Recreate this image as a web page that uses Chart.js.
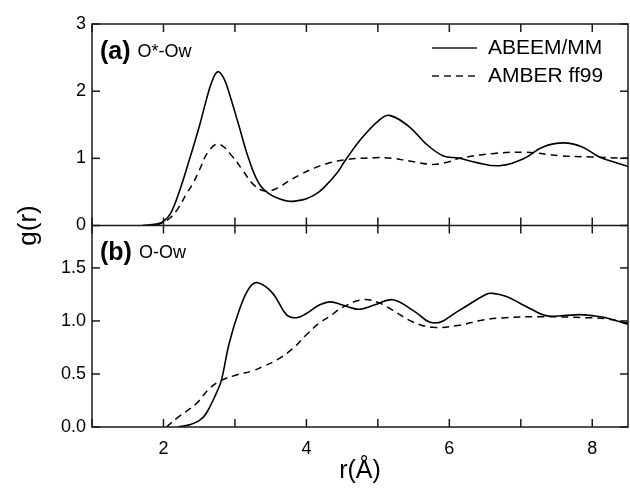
<!DOCTYPE html>
<html>
<head>
<meta charset="utf-8">
<script src="https://cdn.jsdelivr.net/npm/chart.js@4.4.1/dist/chart.umd.min.js"></script>
<style>
    html, body { margin: 0; padding: 0; background: #fff; }
</style>
</head>
<body>
<canvas id="chart-gr" width="630" height="488"></canvas>
<script>
/*
    ========================
      DATOS g(r)
    ========================
*/
// panel (a) O*-Ow
let rAbeemA = [1.70, 1.90, 2.00, 2.10, 2.22, 2.36, 2.50, 2.60, 2.68, 2.76, 2.84, 2.92, 3.06, 3.20, 3.34, 3.48, 3.64, 3.76, 3.88, 4.00, 4.12, 4.23, 4.42, 4.55, 4.79, 5.02, 5.16, 5.44, 5.67, 5.91, 6.14, 6.37, 6.70, 7.03, 7.31, 7.60, 7.86, 8.10, 8.38, 8.50];
let gAbeemA = [0.00, 0.02, 0.06, 0.18, 0.50, 0.97, 1.47, 1.87, 2.15, 2.29, 2.20, 1.97, 1.47, 0.97, 0.62, 0.47, 0.39, 0.36, 0.37, 0.40, 0.46, 0.55, 0.77, 0.98, 1.32, 1.57, 1.64, 1.47, 1.22, 1.04, 1.00, 0.94, 0.89, 0.99, 1.17, 1.23, 1.17, 1.02, 0.92, 0.88];

let rAmberA = [1.90, 2.08, 2.22, 2.32, 2.41, 2.50, 2.64, 2.78, 2.97, 3.11, 3.25, 3.39, 3.50, 3.60, 3.75, 3.90, 4.10, 4.28, 4.55, 4.97, 5.20, 5.44, 5.76, 6.00, 6.14, 6.60, 7.07, 7.54, 8.00, 8.50];
let gAmberA = [0.00, 0.10, 0.28, 0.47, 0.62, 0.82, 1.12, 1.21, 1.02, 0.82, 0.62, 0.52, 0.52, 0.56, 0.66, 0.75, 0.85, 0.92, 0.98, 1.01, 1.00, 0.96, 0.91, 0.95, 1.00, 1.07, 1.09, 1.04, 1.02, 1.00];

// panel (b) O-Ow
let rAbeemB = [2.20, 2.36, 2.50, 2.60, 2.74, 2.81, 2.92, 3.06, 3.20, 3.32, 3.53, 3.72, 3.86, 4.00, 4.18, 4.32, 4.46, 4.60, 4.74, 4.95, 5.21, 5.49, 5.79, 6.14, 6.51, 6.61, 6.80, 6.98, 7.15, 7.35, 7.60, 7.82, 8.00, 8.19, 8.50];
let gAbeemB = [0.00, 0.02, 0.06, 0.13, 0.32, 0.44, 0.79, 1.10, 1.31, 1.36, 1.26, 1.06, 1.03, 1.07, 1.15, 1.18, 1.16, 1.13, 1.11, 1.15, 1.20, 1.10, 0.98, 1.10, 1.25, 1.26, 1.23, 1.17, 1.11, 1.05, 1.05, 1.06, 1.05, 1.03, 0.97];

let rAmberB = [2.04, 2.22, 2.46, 2.64, 2.81, 3.02, 3.25, 3.39, 3.58, 3.81, 4.00, 4.18, 4.32, 4.51, 4.79, 5.02, 5.21, 5.49, 5.77, 6.14, 6.47, 6.79, 7.26, 7.96, 8.20, 8.50];
let gAmberB = [0.00, 0.10, 0.22, 0.36, 0.44, 0.49, 0.53, 0.57, 0.63, 0.74, 0.87, 0.98, 1.04, 1.13, 1.20, 1.17, 1.10, 0.99, 0.94, 0.96, 1.01, 1.03, 1.04, 1.03, 1.02, 0.98];

let etiquetas = ['ABEEM/MM', 'AMBER ff99'];
let paneles = [['(a)', 'O*-Ow'], ['(b)', 'O-Ow']];
let tituloX = 'r(Å)';
let tituloY = 'g(r)';

function puntos(rs, gs) {
    return rs.map((r, i) => ({x: r, y: gs[i]}));
}

const FUENTE = '"Liberation Sans", Arial, sans-serif';
Chart.defaults.font.family = FUENTE;
Chart.defaults.color = '#000';

const estiloSolido = { borderColor: '#000', borderWidth: 1.6, borderDash: [] };
const estiloGuiones = { borderColor: '#000', borderWidth: 1.5, borderDash: [7, 5] };

function serie(label, datos, eje, estilo) {
    return {
        label: label,
        data: datos,
        yAxisID: eje,
        fill: false,
        pointRadius: 0,
        tension: 0.4,
        ...estilo
    };
}

/*
    ========================
      PLUGIN: marco, ticks hacia dentro, leyenda, textos
    ========================
*/
const marcoPaneles = {
    id: 'marcoPaneles',
    afterDraw(chart) {
        const ctx = chart.ctx;
        const ca = chart.chartArea;
        const sx = chart.scales.x, yA = chart.scales.yA, yB = chart.scales.yB;
        const medio = yA.bottom;

        function linea(x0, y0, x1, y1) {
            ctx.beginPath();
            ctx.moveTo(x0, y0);
            ctx.lineTo(x1, y1);
            ctx.stroke();
        }

        ctx.save();
        ctx.strokeStyle = '#1a1a1a';
        ctx.lineWidth = 1.5;
        ctx.setLineDash([]);
        ctx.strokeRect(ca.left, ca.top, ca.right - ca.left, ca.bottom - ca.top);
        linea(ca.left, medio, ca.right, medio);

        // ticks del eje x en los dos paneles
        sx.ticks.forEach(t => {
            const px = sx.getPixelForValue(t.value);
            [[ca.top, 1], [medio, -1], [medio, 1], [ca.bottom, -1]].forEach(([y0, d]) => {
                linea(px, y0, px, y0 + 8 * d);
            });
        });

        // ticks de los ejes y, izquierda y derecha
        function ticksY(escala, esMayor) {
            escala.ticks.forEach(t => {
                const py = escala.getPixelForValue(t.value);
                const largo = esMayor(t.value) ? 8 : 5;
                linea(ca.left, py, ca.left + largo, py);
                linea(ca.right, py, ca.right - largo, py);
            });
        }
        ticksY(yA, v => Number.isInteger(v));
        ticksY(yB, v => Math.abs(v * 2 - Math.round(v * 2)) < 1e-6);

        // etiquetas de panel
        ctx.fillStyle = '#000';
        ctx.textBaseline = 'middle';
        ctx.textAlign = 'left';
        [[paneles[0], ca.top + 28], [paneles[1], medio + 28]].forEach(([p, y]) => {
            ctx.font = 'bold 25px ' + FUENTE;
            ctx.fillText(p[0], ca.left + 8, y);
            const w = ctx.measureText(p[0]).width;
            ctx.font = '18px ' + FUENTE;
            ctx.fillText(p[1], ca.left + 8 + w + 7, y);
        });

        // leyenda
        const estilos = chart.data.datasets.slice(0, 2);
        estilos.forEach((ds, i) => {
            const y = ca.top + 24 + i * 28;
            ctx.lineWidth = ds.borderWidth;
            ctx.setLineDash(ds.borderDash);
            linea(432, y, 477, y);
            ctx.setLineDash([]);
            ctx.font = '21px ' + FUENTE;
            ctx.fillText(ds.label, 488, y);
        });

        // titulo eje y
        ctx.save();
        ctx.translate(29, medio);
        ctx.rotate(-Math.PI / 2);
        ctx.textAlign = 'center';
        ctx.font = '26px ' + FUENTE;
        ctx.fillText(tituloY, 0, 0);
        ctx.restore();

        ctx.restore();
    }
};

/*
    ========================
      GRÁFICA
    ========================
*/
let datosGr = {
    datasets: [
        serie(etiquetas[0], puntos(rAbeemA, gAbeemA), 'yA', estiloSolido),
        serie(etiquetas[1], puntos(rAmberA, gAmberA), 'yA', estiloGuiones),
        serie(etiquetas[0], puntos(rAbeemB, gAbeemB), 'yB', estiloSolido),
        serie(etiquetas[1], puntos(rAmberB, gAmberB), 'yB', estiloGuiones)
    ]
};

let opcionesGr = {
    responsive: false,
    animation: false,
    layout: { padding: { top: 24, right: 2, left: 0, bottom: 0 } },
    scales: {
        x: {
            type: 'linear',
            min: 1,
            max: 8.5,
            grid: { display: false, drawTicks: false },
            border: { display: false },
            ticks: {
                stepSize: 1,
                autoSkip: false,
                maxRotation: 0,
                includeBounds: false,
                padding: 11,
                font: { size: 18 },
                callback: v => (v % 2 === 0 ? String(v) : '')
            },
            title: {
                display: true,
                text: tituloX,
                font: { size: 25 },
                padding: { top: 0, bottom: 2 }
            },
            afterFit: escala => { escala.height = 61; }
        },
        // el ultimo eje definido queda arriba
        yB: {
            type: 'linear',
            position: 'left',
            stack: 'paneles',
            stackWeight: 1,
            min: 0,
            max: 1.9,
            grid: { display: false, drawTicks: false },
            border: { display: false },
            ticks: {
                stepSize: 0.25,
                includeBounds: false,
                padding: 6,
                font: { size: 18 },
                callback: v => (Math.abs(v * 2 - Math.round(v * 2)) < 1e-6 ? v.toFixed(1) : '')
            },
            afterFit: escala => { escala.width = 92; }
        },
        yA: {
            type: 'linear',
            position: 'left',
            stack: 'paneles',
            stackWeight: 1,
            min: 0,
            max: 3,
            grid: { display: false, drawTicks: false },
            border: { display: false },
            ticks: {
                stepSize: 0.5,
                includeBounds: false,
                padding: 6,
                font: { size: 18 },
                callback: v => (Number.isInteger(v) ? String(v) : '')
            },
            afterFit: escala => { escala.width = 92; }
        }
    },
    plugins: {
        legend: false,
        tooltip: { enabled: false }
    }
};

let ctxGr = document.getElementById('chart-gr');

let miGraficaGr = new Chart(ctxGr, {
    type: 'line',
    data: datosGr,
    options: opcionesGr,
    plugins: [marcoPaneles]
});
</script>
</body>
</html>
